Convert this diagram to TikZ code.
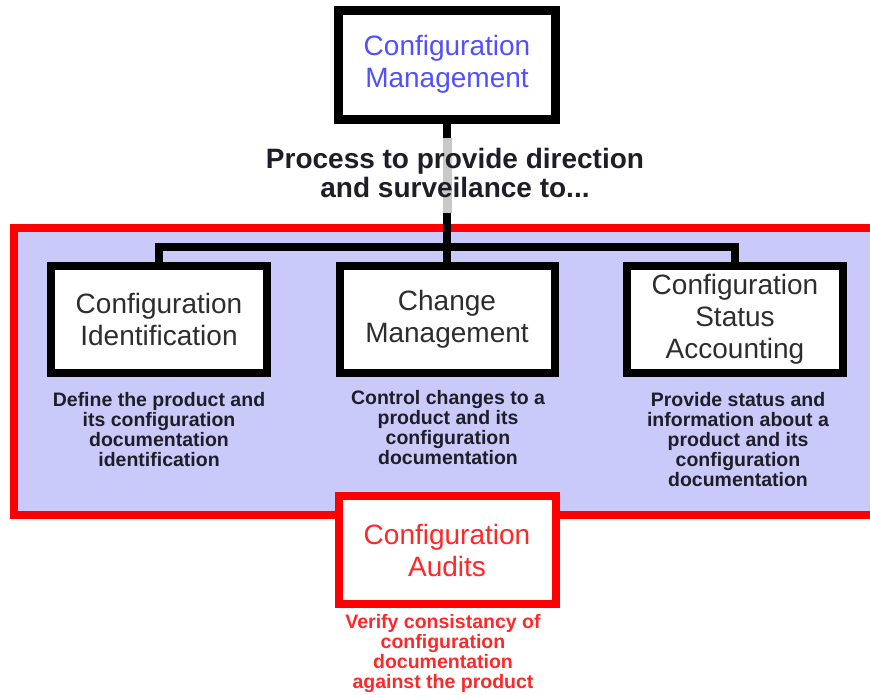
\documentclass[tikz,border=0pt]{standalone}
\usepackage{fontspec}
\setmainfont{Liberation Sans}
\definecolor{lav}{RGB}{202,202,250}
\definecolor{cmblue}{RGB}{80,80,255}
\definecolor{boxtext}{RGB}{45,45,45}
\definecolor{desctext}{RGB}{30,30,40}
\definecolor{cared}{RGB}{255,0,0}
\definecolor{catext}{RGB}{255,40,40}
\definecolor{stemgray}{RGB}{200,200,200}
\begin{document}
\begin{tikzpicture}[x=1pt,y=-1pt,
  box/.style={draw=black, line width=8pt, fill=white, minimum width=216pt,
    minimum height=107pt, inner sep=0pt, align=center, text=boxtext,
    font=\fontsize{28}{32}\selectfont},
  desc/.style={align=center, inner sep=0pt, text=desctext,
    font=\bfseries\fontsize{19.5}{20}\selectfont},
  conn/.style={draw=black, line width=8pt}
]
\useasboundingbox (0,0) rectangle (870,694);

% lavender area holding the three sub-processes
\fill[lav] (14,228) rectangle (870,515);
\draw[cared, line width=8pt] (870,228) -- (14,228) -- (14,515) -- (870,515);

% boxes
\node[box, line width=9pt, minimum width=217pt, minimum height=109pt, text=cmblue]
  (cm) at (447,64.5) {Configuration\\Management};
\node[box] (ci) at (159,319.5) {Configuration\\Identification};
\node[box, minimum width=215pt] (chg) at (447,319.5) {Change\\Management};
\node[box] (csa) at (735,319.5) {Configuration\\Status\\Accounting};
\node[box, draw=cared, minimum width=217pt, minimum height=108pt, text=catext]
  (ca) at (447,550) {Configuration\\Audits};

% connectors
\coordinate (bus) at (447,247);
\coordinate (g1) at (447,138);
\coordinate (g2) at (447,213);
\draw[conn] (cm.south) -- (chg.north);
\draw[conn] (ci.north) |- (bus) -| (csa.north);
\draw[line width=9pt, stemgray] (g1) -- (g2);

% labels
\node[align=center, inner sep=0pt, font=\bfseries\fontsize{28}{29}\selectfont, text=desctext]
  (proc) at (455,173) {Process to provide direction\\and surveilance to...};
\node[desc] (dci) at (159,430) {Define the product and\\its configuration\\documentation\\identification};
\node[desc] (dchg) at (448,428) {Control changes to a\\product and its\\configuration\\documentation};
\node[desc] (dcsa) at (738,440) {Provide status and\\information about a\\product and its\\configuration\\documentation};
\node[desc, text=catext] (dca) at (443,653) {Verify consistancy of\\configuration\\documentation\\against the product};
\end{tikzpicture}
\end{document}
